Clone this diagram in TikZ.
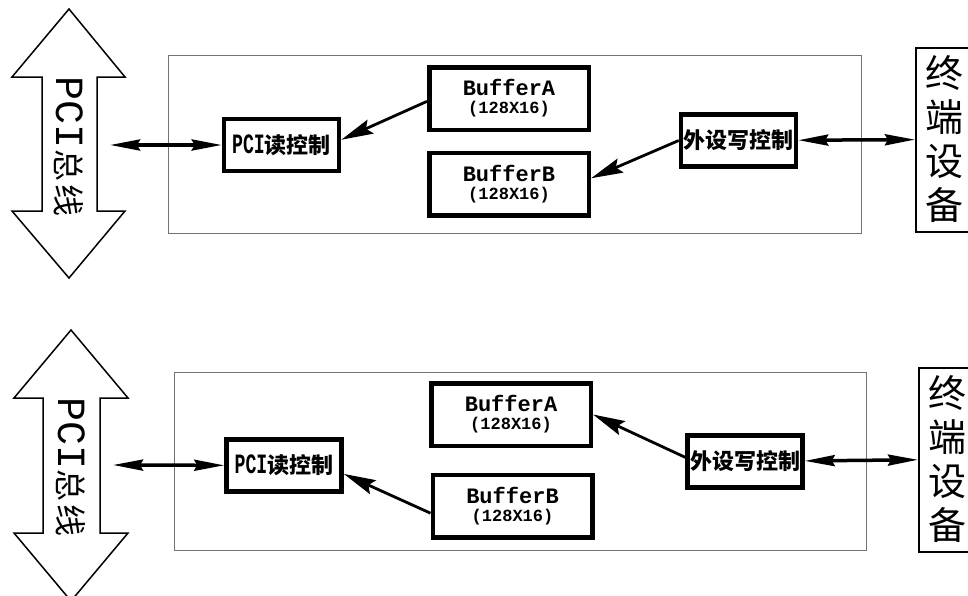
\documentclass[tikz,border=0pt]{standalone}
\usepackage{graphicx}
\usepackage{fontspec}
\newfontfamily\cjk{Noto Sans CJK SC}
\newfontfamily\mono{Liberation Mono}
\usetikzlibrary{arrows.meta,positioning}

\tikzset{
  bufbox/.style={draw,line width=4.5pt,inner sep=0pt,minimum width=159.5pt,minimum height=62.5pt,align=center,font={\mono\bfseries\fontsize{22}{18}\selectfont}},
  ctlbox/.style={draw,line width=4.5pt,inner sep=0pt,minimum width=115pt,minimum height=52pt},
  termbox/.style={draw,line width=2pt,inner sep=0pt,minimum width=56pt,minimum height=184pt,align=center,font={\cjk\fontsize{38}{44}\selectfont}},
  board/.style={draw=black!55,line width=1pt},
  bus/.style={draw,line width=1.5pt,fill=white},
  biarr/.style={line width=3.5pt,{Stealth[length=30pt,width=11pt,inset=3pt]}-{Stealth[length=30pt,width=11pt,inset=3pt]}},
  onearr/.style={line width=2.8pt,-{Stealth[length=32pt,width=15pt,inset=5pt]}}
}

\begin{document}
\begin{tikzpicture}[x=1pt,y=-1pt]
\useasboundingbox[fill=white] (0,0) rectangle (968,595);

\draw[bus] (69,9) -- (125,77) -- (97,77) -- (97,211) -- (125,211) -- (69,278)
  -- (12,211) -- (42,211) -- (42,77) -- (12,77) -- cycle;
\node[rotate=-90] (bt) at (69,147) {\mono\fontsize{40}{40}\selectfont PCI\cjk\fontsize{32}{32}\selectfont 总\hspace{4pt}线};

\draw[board] (168,55) rectangle (861,233);

\node[ctlbox] (pr) at (281.5,145) {\scalebox{0.65}[1]{\mono\bfseries\fontsize{28}{28}\selectfont PCI}{\cjk\bfseries\fontsize{22}{22}\selectfont 读控制}};
\node[bufbox] (ba) at (509,98.5) {BufferA\\{\fontsize{17}{18}\selectfont (128X16)}};
\node[bufbox] (bb) at (509,184) {BufferB\\{\fontsize{17}{18}\selectfont (128X16)}};
\node[ctlbox] (pw) at (738.5,140.5) {\cjk\bfseries\fontsize{22}{22}\selectfont 外设写控制};
\node[termbox] (te) at (944,139.5) {终\\端\\设\\备};

\coordinate (pe) at (110,145);
\draw[biarr] (pe) -- (pr);
\draw[biarr] (pw) -- (te);
\draw[onearr] (ba.182) -- (pr.5);
\draw[onearr] (pw.west) -- (bb.4);

%%%%%%%%%%%%%%%
\begin{scope}[shift={(0,320)}]
\draw[bus] (71,10) -- (128,78) -- (100,78) -- (100,213) -- (128,213) -- (71,281)
  -- (14,213) -- (43,213) -- (43,78) -- (14,78) -- cycle;
\node[rotate=-90] (bt) at (71,147) {\mono\fontsize{40}{40}\selectfont PCI\cjk\fontsize{32}{32}\selectfont 总\hspace{4pt}线};

\draw[board] (174,52) rectangle (866,230);

\node[ctlbox] (pr) at (284,145.5) {\scalebox{0.65}[1]{\mono\bfseries\fontsize{28}{28}\selectfont PCI}{\cjk\bfseries\fontsize{22}{22}\selectfont 读控制}};
\node[bufbox] (ba) at (511,94.5) {BufferA\\{\fontsize{17}{18}\selectfont (128X16)}};
\node[bufbox] (bb) at (512.5,186) {BufferB\\{\fontsize{17}{18}\selectfont (128X16)}};
\node[ctlbox] (pw) at (745,141.5) {\cjk\bfseries\fontsize{22}{22}\selectfont 外设写控制};
\node[termbox] (te) at (947,139.5) {终\\端\\设\\备};

\coordinate (pe) at (113,145);
\draw[biarr] (pe) -- (pr);
\draw[biarr] (pw) -- (te);
\draw[onearr] (bb.185) -- (pr.352);
\draw[onearr] (pw.176) -- (ba.east);
\end{scope}

\end{tikzpicture}
\end{document}
